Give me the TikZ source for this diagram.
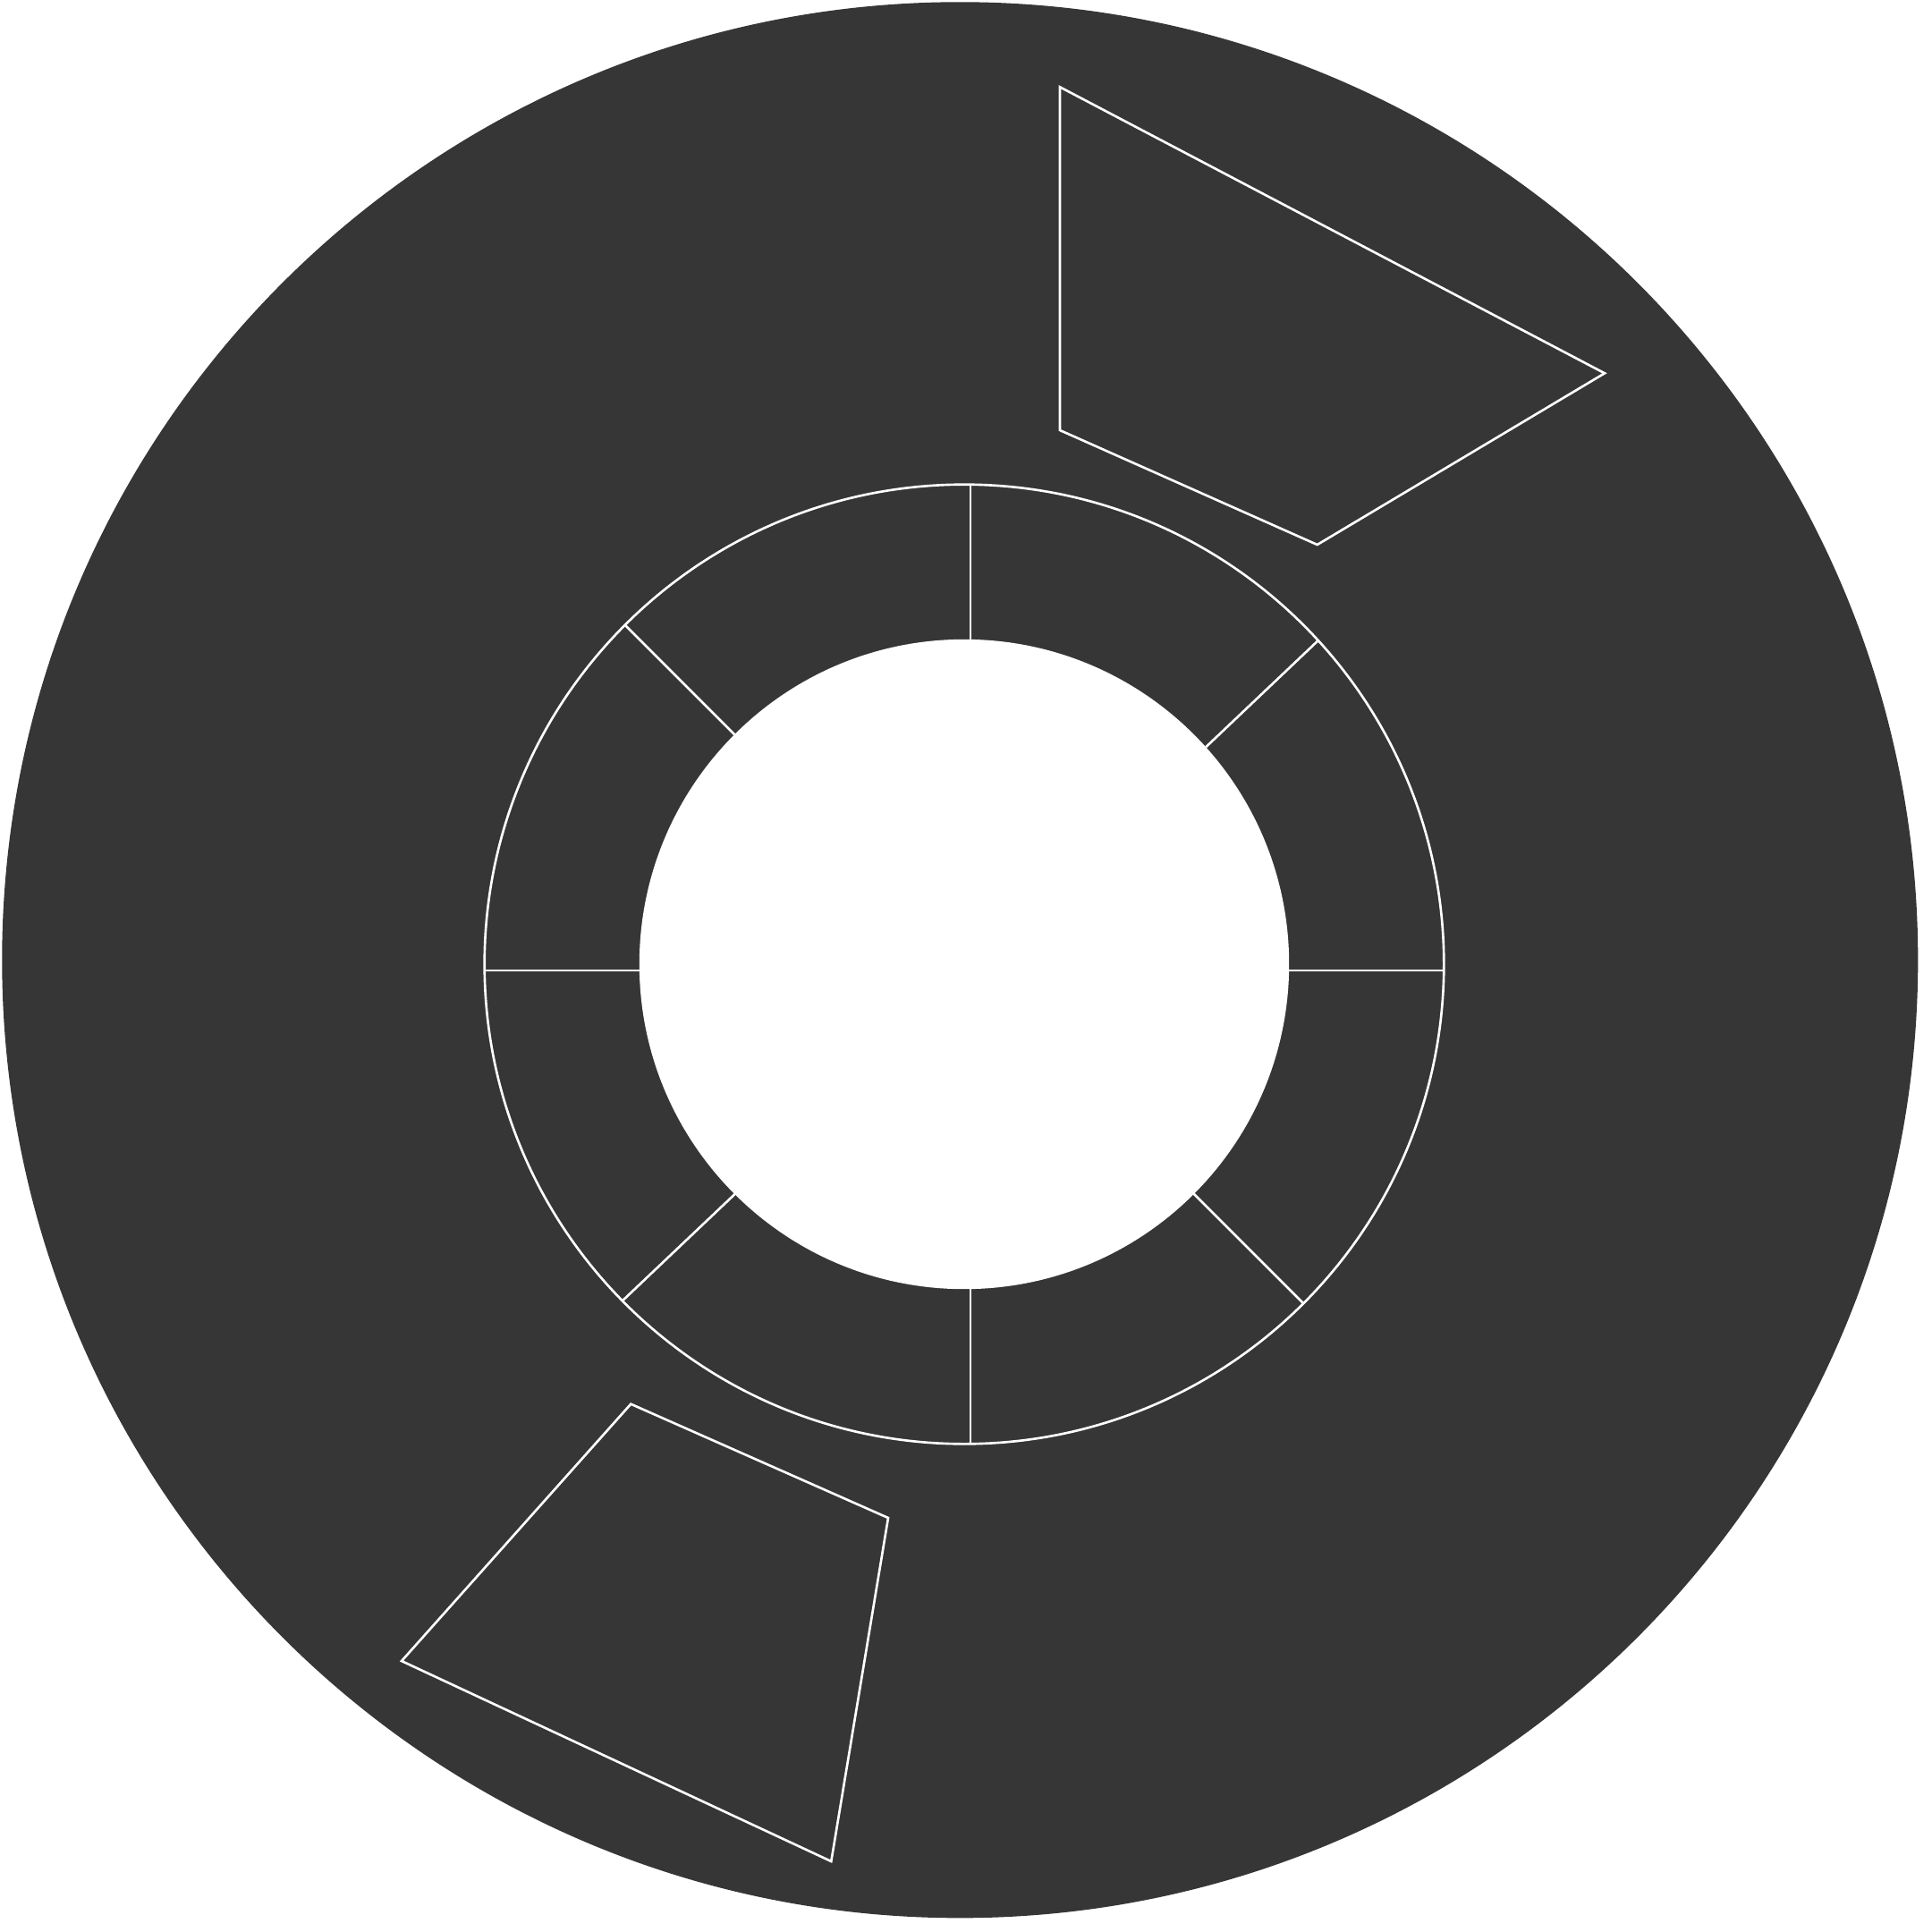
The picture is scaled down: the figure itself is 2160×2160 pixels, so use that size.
\documentclass[tikz,border=0pt]{standalone}
\usetikzlibrary{calc}
\definecolor{bgdark}{RGB}{54,54,54}
\tikzset{
  whiteline/.style={draw=white, line width=0.75pt},
  poly/.style={whiteline, fill=bgdark, line join=miter},
}
\begin{document}
\begin{tikzpicture}[x=0.01cm,y=-0.01cm]
\useasboundingbox (0,0) rectangle (2160,2160);
% big disc
\fill[bgdark] (1073.3,1073.3) circle[radius=10.704cm];
% ring
\draw[whiteline] (1078,1078) circle[radius=5.36cm];
\fill[white] (1078,1078) circle[radius=3.63cm];
% dividing lines
\draw[whiteline] (1440.9,1085) -- (1614,1085);
\draw[whiteline] (1085,715.1) -- (1085,542);
\draw[whiteline] (715.1,1085) -- (542,1085);
\draw[whiteline] (1085,1440.9) -- (1085,1614);
\draw[whiteline] (821.3,821.3) -- (699,699);
\draw[whiteline] (1334.7,1334.7) -- (1457,1457);
\draw[whiteline] (1348.1,835.3) -- (1473.6,716.2);
\draw[whiteline] (821.9,1334.7) -- (696.4,1453.8);
% polygons
\draw[poly] (1185,97.3) -- (1794,417.3) -- (1472.7,609) -- (1185,481) -- cycle;
\draw[poly] (705.3,1569.7) -- (993,1697) -- (929.3,2081) -- (449,1857) -- cycle;
\end{tikzpicture}
\end{document}
